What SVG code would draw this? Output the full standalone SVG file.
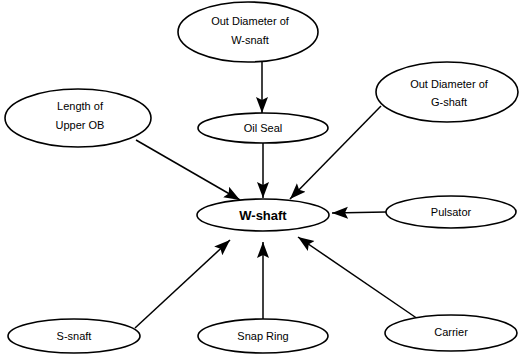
<svg xmlns="http://www.w3.org/2000/svg" width="519" height="355" viewBox="0 0 519 355">
  <style>
    .node ellipse { fill: #fff; stroke: #000; stroke-width: 1.6; }
    .node text { font-family: "Liberation Sans", Arial, sans-serif; font-size: 11px; fill: #000; text-anchor: middle; }
    #w-shaft text { font-size: 13px; font-weight: bold; }
    .edge { stroke: #000; stroke-width: 1.5; fill: none; marker-end: url(#arrow); }
  </style>
  <defs>
    <marker id="arrow" markerUnits="userSpaceOnUse" markerWidth="18" markerHeight="14" refX="16" refY="6" orient="auto">
      <path d="M0,0 L16,6 L0,12 L3,6 Z" fill="#000"/>
    </marker>
  </defs>
  <rect width="519" height="355" fill="#fff"/>

  <g id="connectors">
    <line class="edge" x1="262" y1="62" x2="262" y2="113"/>
    <line class="edge" x1="136" y1="140" x2="240" y2="200"/>
    <line class="edge" x1="263" y1="143" x2="263" y2="198"/>
    <line class="edge" x1="381" y1="106" x2="290" y2="199"/>
    <line class="edge" x1="386" y1="212" x2="332" y2="213"/>
    <line class="edge" x1="135" y1="328" x2="230" y2="240"/>
    <line class="edge" x1="263" y1="319" x2="263" y2="242"/>
    <line class="edge" x1="418" y1="319" x2="298" y2="237"/>
  </g>

  <g id="od-w-shaft" class="node">
    <ellipse cx="248" cy="32" rx="70" ry="30"/>
    <text x="250" y="25">Out Diameter of</text>
    <text x="250" y="44">W-snaft</text>
  </g>
  <g id="oil-seal" class="node">
    <ellipse cx="263" cy="128" rx="65" ry="15"/>
    <text x="263" y="132">Oil Seal</text>
  </g>
  <g id="length-upper-ob" class="node">
    <ellipse cx="78" cy="118" rx="73" ry="29"/>
    <text x="80" y="110">Length of</text>
    <text x="80" y="129">Upper OB</text>
  </g>
  <g id="od-g-shaft" class="node">
    <ellipse cx="447" cy="92" rx="71" ry="30"/>
    <text x="449" y="88">Out Diameter of</text>
    <text x="449" y="106">G-shaft</text>
  </g>
  <g id="w-shaft" class="node">
    <ellipse cx="263" cy="215" rx="66" ry="16"/>
    <text x="263" y="220">W-shaft</text>
  </g>
  <g id="pulsator" class="node">
    <ellipse cx="451" cy="212" rx="65" ry="16"/>
    <text x="451" y="216">Pulsator</text>
  </g>
  <g id="s-shaft" class="node">
    <ellipse cx="74" cy="336" rx="66" ry="17"/>
    <text x="74" y="340">S-snaft</text>
  </g>
  <g id="snap-ring" class="node">
    <ellipse cx="263" cy="336" rx="65" ry="17"/>
    <text x="263" y="340">Snap Ring</text>
  </g>
  <g id="carrier" class="node">
    <ellipse cx="451" cy="333" rx="66" ry="18"/>
    <text x="451" y="336">Carrier</text>
  </g>
</svg>
